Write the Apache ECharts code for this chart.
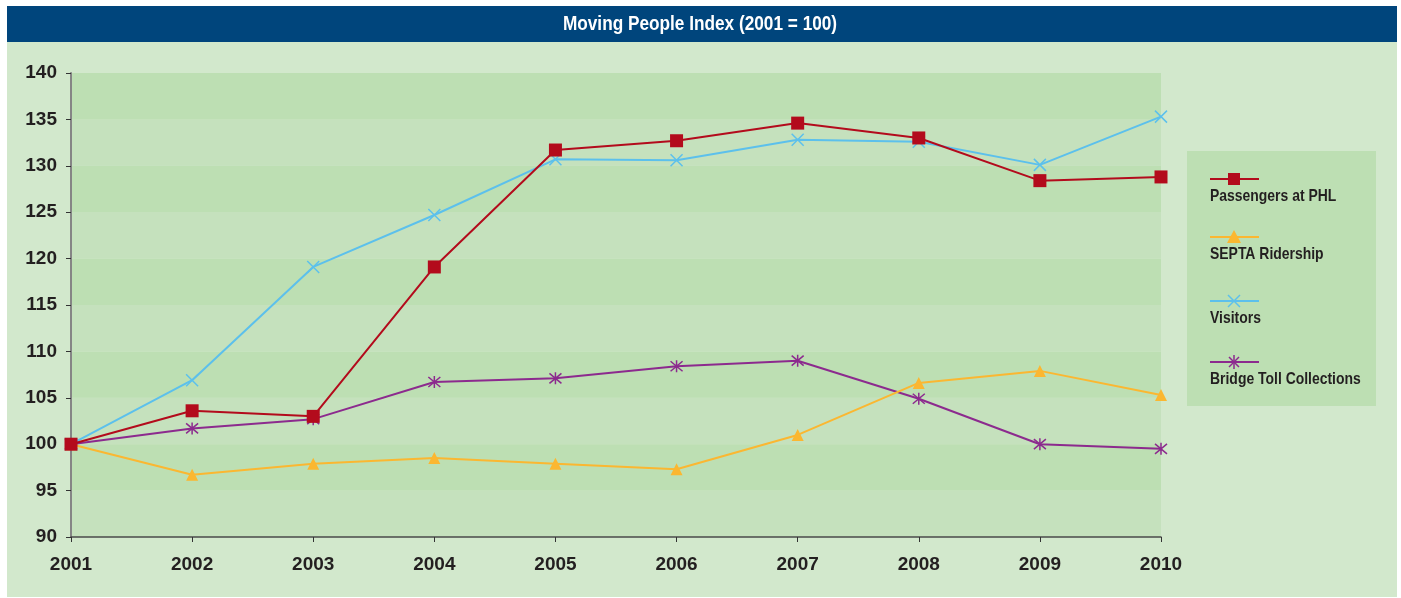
<!DOCTYPE html>
<html>
<head>
<meta charset="utf-8">
<script src="https://cdn.jsdelivr.net/npm/echarts@6/dist/echarts.min.js"></script>
<style>
html, body { margin: 0; padding: 0; background: #ffffff; }
#chart { width: 1401px; height: 598px; }
</style>
</head>
<body>
<div id="chart"></div>
<script>
// data
const years = ['2001', '2002', '2003', '2004', '2005', '2006', '2007', '2008', '2009', '2010'];
const passengers = [100, 103.6, 103.0, 119.1, 131.7, 132.7, 134.6, 133.0, 128.4, 128.8];
const septa = [100, 96.7, 97.9, 98.5, 97.9, 97.3, 101.0, 106.6, 107.9, 105.3];
const visitors = [100, 106.9, 119.1, 124.7, 130.7, 130.6, 132.8, 132.6, 130.1, 135.3];
const bridge = [100, 101.7, 102.7, 106.7, 107.1, 108.4, 109.0, 104.9, 100.0, 99.5];
const seriesNames = ['Passengers at PHL', 'SEPTA Ridership', 'Visitors', 'Bridge Toll Collections'];
const titleText = 'Moving People Index (2001 = 100)';

const FONT = "'Liberation Sans', Arial, sans-serif";
const C_RED = '#b30b1c';
const C_YEL = '#fbb731';
const C_BLUE = '#5cc0ec';
const C_PURP = '#8c2a8e';
const X_PATH = 'path://M0,0L10,10M10,0L0,10';
const STAR_PATH = 'path://M0,0L10,10M10,0L0,10M5,-1L5,11';

// legend drawn by hand: line above, label below (text squeezed to look condensed)
function legendItem(y, color, name, sym) {
    const items = [
        { type: 'line', shape: { x1: 1210, y1: y, x2: 1259, y2: y }, style: { stroke: color, lineWidth: 2 } },
        { type: 'text', x: 1210, y: y + 17, scaleX: 0.82, style: { x: 0, y: 0, text: name, font: 'bold 17px ' + FONT, fill: '#231f20', textVerticalAlign: 'middle' } }
    ];
    const cx = 1234;
    if (sym === 'rect') {
        items.push({ type: 'rect', shape: { x: cx - 6, y: y - 6, width: 12, height: 12 }, style: { fill: color } });
    } else if (sym === 'tri') {
        items.push({ type: 'polygon', shape: { points: [[cx, y - 7], [cx - 7, y + 6], [cx + 7, y + 6]] }, style: { fill: color } });
    } else if (sym === 'x') {
        items.push({ type: 'polyline', shape: { points: [[cx - 6, y - 6], [cx + 6, y + 6]] }, style: { stroke: color, lineWidth: 1.5 } });
        items.push({ type: 'polyline', shape: { points: [[cx + 6, y - 6], [cx - 6, y + 6]] }, style: { stroke: color, lineWidth: 1.5 } });
    } else {
        items.push({ type: 'polyline', shape: { points: [[cx - 5, y - 5], [cx + 5, y + 5]] }, style: { stroke: color, lineWidth: 1.5 } });
        items.push({ type: 'polyline', shape: { points: [[cx + 5, y - 5], [cx - 5, y + 5]] }, style: { stroke: color, lineWidth: 1.5 } });
        items.push({ type: 'polyline', shape: { points: [[cx, y - 7], [cx, y + 7]] }, style: { stroke: color, lineWidth: 1.5 } });
    }
    return items;
}

function lineSeries(name, data, color, symbol, size, z) {
    return {
        name: name,
        type: 'line',
        data: data,
        symbol: symbol,
        symbolSize: size,
        showAllSymbol: true,
        z: z,
        lineStyle: { color: color, width: 2 },
        itemStyle: { color: color, borderColor: color, borderWidth: symbol.indexOf('path://') === 0 ? 1.5 : 0 },
        emphasis: { disabled: true }
    };
}

const chart = echarts.init(document.getElementById('chart'));
chart.setOption({
    animation: false,
    backgroundColor: '#ffffff',
    graphic: [
        { type: 'rect', z: -10, shape: { x: 7, y: 42, width: 1390, height: 555 }, style: { fill: '#d2e8cc' } },
        { type: 'rect', z: -10, shape: { x: 7, y: 6, width: 1390, height: 36 }, style: { fill: '#00457c' } },
        { type: 'text', z: 10, x: 700, y: 24, scaleX: 0.82, style: { x: 0, y: 0, text: titleText, font: 'bold 21px ' + FONT, fill: '#ffffff', textAlign: 'center', textVerticalAlign: 'middle' } },
        { type: 'rect', z: -9, shape: { x: 1187, y: 151, width: 189, height: 255 }, style: { fill: '#bddfb3' } }
    ]
        .concat(legendItem(179, C_RED, seriesNames[0], 'rect'))
        .concat(legendItem(237, C_YEL, seriesNames[1], 'tri'))
        .concat(legendItem(301, C_BLUE, seriesNames[2], 'x'))
        .concat(legendItem(362, C_PURP, seriesNames[3], 'star')),
    grid: { left: 71, right: 240, top: 73, bottom: 61 },
    xAxis: {
        type: 'category',
        data: years,
        boundaryGap: false,
        axisLine: { lineStyle: { color: '#4a4a4a', width: 1.5 } },
        axisTick: { show: true, length: 5, inside: false, lineStyle: { color: '#333333' } },
        axisLabel: { color: '#231f20', fontFamily: FONT, fontWeight: 'bold', fontSize: 19, margin: 18 },
        splitLine: { show: false }
    },
    yAxis: {
        type: 'value',
        min: 90,
        max: 140,
        interval: 5,
        axisLine: { show: true, lineStyle: { color: '#858585', width: 2 } },
        axisTick: { show: true, length: 5, lineStyle: { color: '#333333' } },
        axisLabel: { color: '#231f20', fontFamily: FONT, fontWeight: 'bold', fontSize: 19, margin: 14 },
        splitLine: { show: false },
        splitArea: { show: true, areaStyle: { color: ['#c5e1bd', '#bddfb3'] } }
    },
    series: [
        lineSeries(seriesNames[3], bridge, C_PURP, STAR_PATH, 12, 2),
        lineSeries(seriesNames[2], visitors, C_BLUE, X_PATH, 12, 3),
        lineSeries(seriesNames[1], septa, C_YEL, 'triangle', 12, 4),
        lineSeries(seriesNames[0], passengers, C_RED, 'rect', 13, 5)
    ]
});
</script>
</body>
</html>
